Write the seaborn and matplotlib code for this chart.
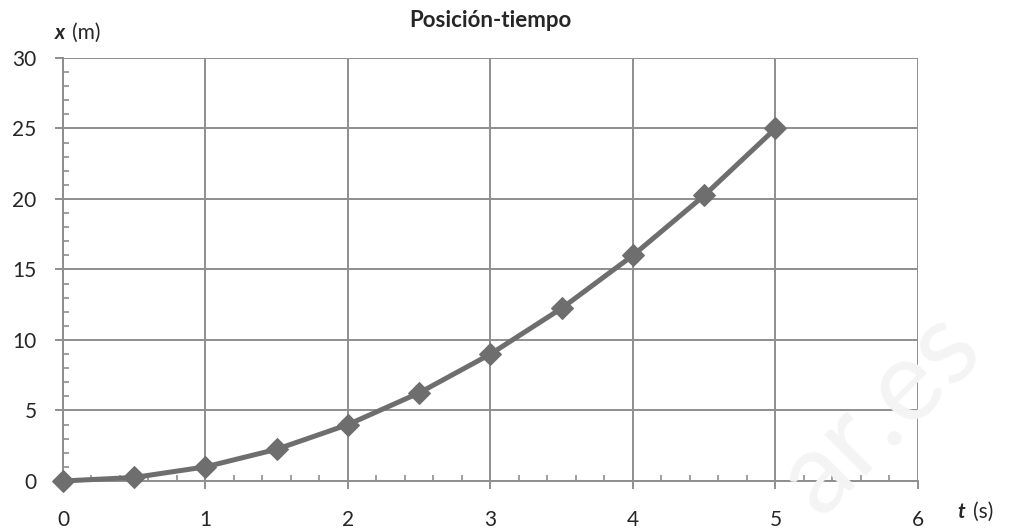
import numpy as np
import pandas as pd
import matplotlib.pyplot as plt
import seaborn as sns
from matplotlib.ticker import MultipleLocator

# Data
t_s = [0, 0.5, 1, 1.5, 2, 2.5, 3, 3.5, 4, 4.5, 5]
x_m = [0, 0.25, 1, 2.25, 4, 6.25, 9, 12.25, 16, 20.25, 25]
x_ticks = [0, 1, 2, 3, 4, 5, 6]
y_ticks = [0, 5, 10, 15, 20, 25, 30]

df = pd.DataFrame({'t': t_s, 'x': x_m})

sns.set_style('white')
plt.rcParams['font.family'] = ['Lato', 'DejaVu Sans']

line_col = '#6e6e6e'
grid_col = '#8e8e8e'

fig = plt.figure(figsize=(10.09, 5.32), dpi=100)
ax = fig.add_axes([0.0624, 0.0959, 0.8474, 0.7951])

# faint watermark
fig.text(0.872, 0.225, 'ar.es', fontsize=82, color='#f4f4f4', rotation=45,
         ha='center', va='center', zorder=0)
ax.set_facecolor('none')

sns.lineplot(data=df, x='t', y='x', ax=ax, color=line_col, linewidth=3.6,
             marker='D', markersize=11, markeredgecolor=line_col,
             markerfacecolor=line_col, clip_on=False, zorder=5)

ax.set_xlim(0, 6)
ax.set_ylim(0, 30)
ax.set_xticks(x_ticks)
ax.set_yticks(y_ticks)
ax.xaxis.set_minor_locator(MultipleLocator(0.2))
ax.yaxis.set_minor_locator(MultipleLocator(1))

ax.grid(True, which='major', color=grid_col, linewidth=1.4)
for s in ['top', 'right']:
    ax.spines[s].set_visible(False)
for s in ['left', 'bottom']:
    ax.spines[s].set_color(grid_col)
    ax.spines[s].set_linewidth(1.4)

ax.tick_params(axis='both', which='both', bottom=True, left=True)
ax.tick_params(axis='both', which='major', direction='out', length=6,
               width=1.4, color=grid_col, labelsize=15)
ax.tick_params(axis='x', which='major', pad=15)
ax.tick_params(axis='y', which='major', pad=13)
ax.tick_params(axis='both', which='minor', direction='in', length=4,
               width=1.2, color=grid_col)

ax.set_xlabel('')
ax.set_ylabel('')
ax.set_title('Posición-tiempo', fontsize=16, fontweight='bold', pad=22)

# axis labels
fig.text(0.0545, 0.938, 'x', fontsize=15, fontweight='bold', style='italic',
         va='center')
fig.text(0.0715, 0.938, '(m)', fontsize=15, va='center')
fig.text(0.949, 0.038, 't', fontsize=15, fontweight='bold', style='italic',
         va='center')
fig.text(0.964, 0.038, '(s)', fontsize=15, va='center')

plt.savefig('out.png', dpi=100)
plt.close()
